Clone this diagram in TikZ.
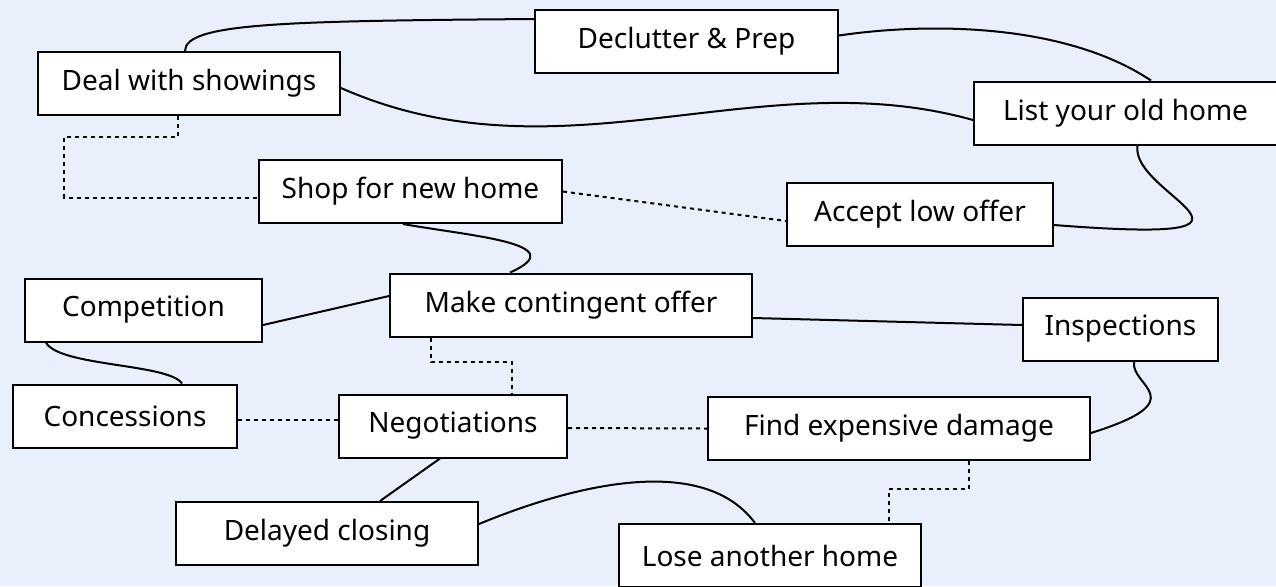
\documentclass[tikz,border=0pt]{standalone}
\usepackage{fontspec}
\setmainfont{Noto Sans}
\usetikzlibrary{calc}
\definecolor{bgblue}{RGB}{232,241,251}

\begin{document}
\begin{tikzpicture}[
		x=0.5pt, y=-0.5pt,
		stepbox/.style={draw, fill=white, line width=1pt, inner sep=0pt,
			minimum height=31.5pt, font=\fontsize{14}{16}\selectfont},
		link/.style={line width=1pt},
		dotlink/.style={line width=1pt, dash pattern=on 2pt off 2pt}
		]
		\fill[bgblue] (0,0) rectangle (1276,586);
		\useasboundingbox (0,0) rectangle (1276,586);
		
		% the steps
		\node[stepbox, minimum width=151.5pt] at (686.5,41.5) (declutter) {Declutter \& Prep};
		\node[stepbox, minimum width=151pt] at (189,83.5) (showings) {Deal with showings};
		\node[stepbox, minimum width=151.5pt] at (1125.5,113) (listold) {List your old home};
		\node[stepbox, minimum width=151.5pt] at (410.5,191.5) (shop) {Shop for new home};
		\node[stepbox, minimum width=133pt] at (920,214) (accept) {Accept low offer};
		\node[stepbox, minimum width=118.5pt] at (143.5,310) (compet) {Competition};
		\node[stepbox, minimum width=181pt] at (571,305) (offer) {Make contingent offer};
		\node[stepbox, minimum width=97.5pt] at (1120.5,329) (inspect) {Inspections};
		\node[stepbox, minimum width=112pt] at (125,416) (concess) {Concessions};
		\node[stepbox, minimum width=114pt] at (453,426) (negot) {Negotiations};
		\node[stepbox, minimum width=191pt] at (899,428.5) (damage) {Find expensive damage};
		\node[stepbox, minimum width=151pt] at (327,533.5) (delayed) {Delayed closing};
		\node[stepbox, minimum width=151pt] at (770,555.5) (lose) {Lose another home};
		
		% solid links
		\draw[link] ($(showings.north)+(-4,0)$) .. controls +(0,-28) and +(-250,2) .. ($(declutter.north west)+(0,10)$);
		\draw[link] ($(declutter.east)+(0,-6)$) .. controls +(80,-12) and +(-90,-60) .. ($(listold.north west)+(178,0)$);
		\draw[link] ($(showings.east)+(0,4.5)$) .. controls +(220,97) and +(-214,-60) .. ($(listold.west)+(0,7)$);
		\draw[link] ($(listold.south)+(12,0)$) .. controls +(-8,50) and +(257,20) .. ($(accept.east)+(0,11)$);
		\draw[link] ($(shop.south)+(-7.5,0)$) .. controls +(67,12) and +(65,-29) .. ($(offer.north)+(-61,0)$);
		\draw[link] ($(compet.east)+(0,15)$) -- ($(offer.west)+(0,-9)$);
		\draw[link] ($(offer.east)+(0,13)$) -- ($(inspect.west)+(0,-4)$);
		\draw[link] ($(compet.south west)+(22,0)$) .. controls +(13,24) and +(-13,-20) .. ($(concess.north west)+(170,0)$);
		\draw[link] ($(inspect.south)+(13.5,0)$) .. controls +(-4,25) and +(105,-33) .. ($(damage.east)+(0,4.5)$);
		\draw[link] ($(negot.south)+(-13,0)$) -- ($(delayed.north)+(53,0)$);
		\draw[link] ($(delayed.east)+(0,-9.5)$) .. controls +(82,-34) and +(-55,-74) .. ($(lose.north)+(-15,0)$);
		
		% dotted links
		\draw[dotlink] ($(showings.south)+(-11,0)$) -- ++(0,21) -- ++(-114,0) |- ($(shop.west)+(0,6)$);
		\draw[dotlink] (shop.east) -- ($(accept.west)+(0,7)$);
		\draw[dotlink] ($(offer.south west)+(42,0)$) -- ++(0,24) -| ($(negot.north west)+(174,0)$);
		\draw[dotlink] ($(concess.east)+(0,4)$) -- ($(negot.west)+(0,-6)$);
		\draw[dotlink] ($(negot.east)+(0,2)$) -- (damage.west);
		\draw[dotlink] ($(damage.south)+(70,0)$) -- ++(0,28) -| ($(lose.north)+(119,0)$);
	\end{tikzpicture}
\end{document}
